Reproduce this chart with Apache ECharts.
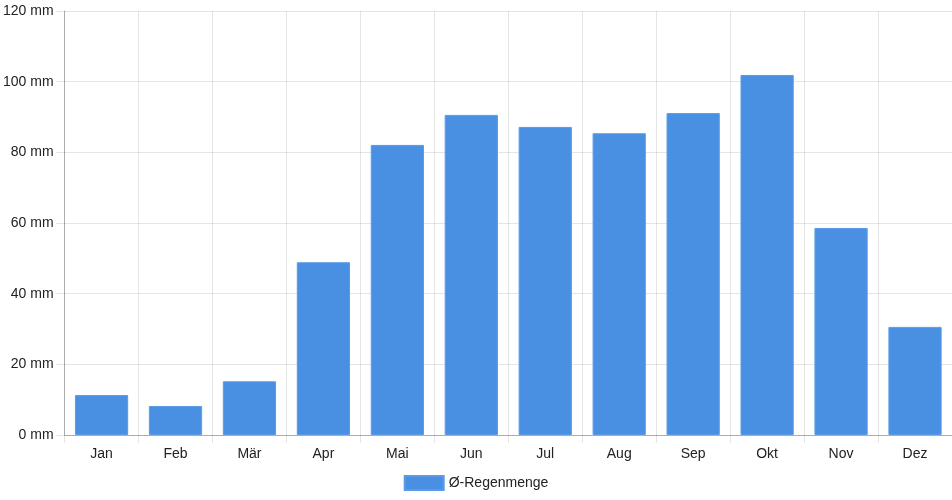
<!DOCTYPE html>
<html>
<head>
<meta charset="utf-8">
<script src="https://cdn.jsdelivr.net/npm/echarts@6/dist/echarts.min.js"></script>
<style>
html,body{margin:0;padding:0;background:#fff;}
#c{width:952px;height:500px;}
</style>
</head>
<body>
<div id="c"></div>
<script>
const categories = ['Jan','Feb','Mär','Apr','Mai','Jun','Jul','Aug','Sep','Okt','Nov','Dez'];
const rainfall = [11.3, 8.2, 15.2, 48.9, 82.1, 90.6, 87.2, 85.4, 91.1, 101.9, 58.6, 30.6];
const seriesName = 'Ø-Regenmenge';

const chart = echarts.init(document.getElementById('c'), null, {renderer:'canvas'});
const font = 'Liberation Sans, Arial, Helvetica, sans-serif';
chart.setOption({
  animation:false,
  textStyle:{fontFamily:font},
  grid:{left:64,right:0,top:11,bottom:65,containLabel:false},
  legend:{
    bottom:4,left:'center',
    itemWidth:39,itemHeight:14,itemGap:10,
    icon:'rect',
    textStyle:{fontSize:14,color:'#222',fontFamily:font},
    data:[seriesName]
  },
  xAxis:{
    type:'category',
    data:categories,
    boundaryGap:true,
    axisLine:{show:true,lineStyle:{color:'rgba(0,0,0,0.25)',width:1}},
    axisTick:{show:true,length:8,alignWithLabel:false,lineStyle:{color:'rgba(0,0,0,0.1)'}},
    axisLabel:{fontSize:14,color:'#222',margin:12,fontFamily:font},
    splitLine:{show:true,lineStyle:{color:'rgba(0,0,0,0.1)',width:1}}
  },
  yAxis:{
    type:'value',
    min:0,max:120,interval:20,
    axisLine:{show:true,lineStyle:{color:'rgba(0,0,0,0.25)',width:1}},
    axisTick:{show:true,length:8,lineStyle:{color:'rgba(0,0,0,0.1)'}},
    axisLabel:{fontSize:14,color:'#222',margin:11,formatter:'{value} mm',fontFamily:font},
    splitLine:{show:true,lineStyle:{color:'rgba(0,0,0,0.1)',width:1}}
  },
  series:[{
    name:seriesName,
    type:'bar',
    data:rainfall,
    barCategoryGap:'28%',
    itemStyle:{color:'#4a90e2',borderColor:'#5b9be6',borderWidth:1}
  }]
});
</script>
</body>
</html>
